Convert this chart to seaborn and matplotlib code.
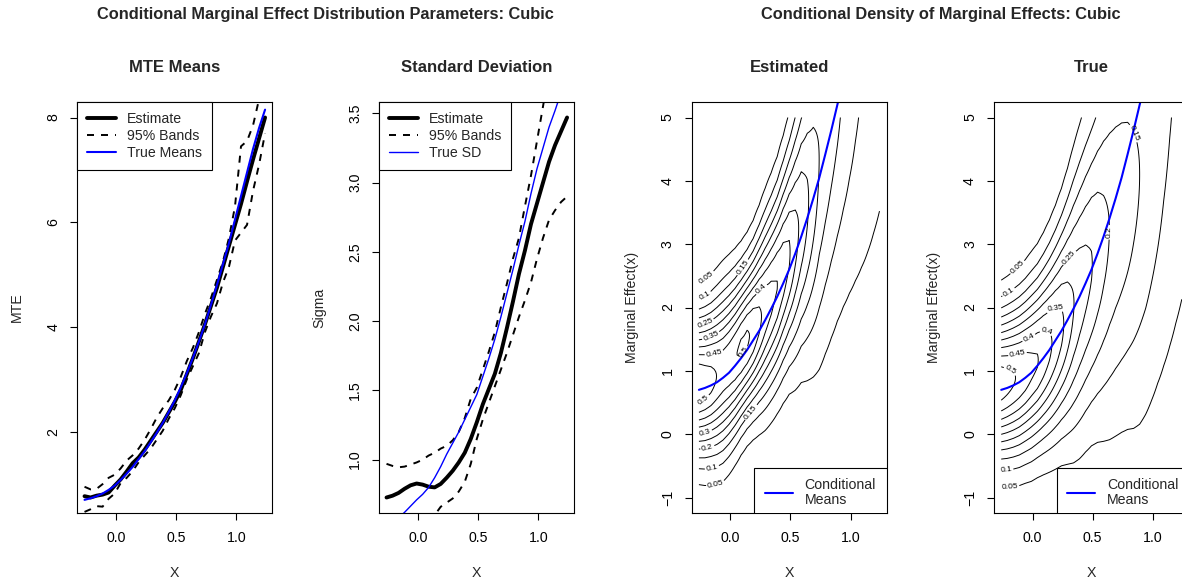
import numpy as np
import pandas as pd
import matplotlib
matplotlib.use("Agg")
import matplotlib.pyplot as plt
import seaborn as sns

# ------------------------------------------------------------------ data
x_grid = [-0.26, -0.21, -0.16, -0.11, -0.06, -0.01, 0.04, 0.09, 0.14, 0.19,
          0.24, 0.29, 0.34, 0.39, 0.44, 0.49, 0.54, 0.59, 0.64, 0.69,
          0.74, 0.79, 0.84, 0.89, 0.94, 0.99, 1.04, 1.09, 1.14, 1.19, 1.24]

# MTE means panel
mte_est = [0.77, 0.745, 0.78, 0.80, 0.84, 0.97, 1.09, 1.24, 1.40, 1.51,
           1.66, 1.83, 2.00, 2.17, 2.37, 2.57, 2.80, 3.10, 3.40, 3.72,
           4.05, 4.40, 4.75, 5.15, 5.55, 5.95, 6.35, 6.78, 7.20, 7.60, 8.00]
mte_upper = [0.95, 0.90, 0.91, 1.00, 1.12, 1.18, 1.30, 1.45, 1.55, 1.68,
             1.85, 2.05, 2.27, 2.45, 2.60, 2.80, 3.05, 3.35, 3.60, 3.90,
             4.25, 4.55, 4.90, 5.25, 5.70, 6.30, 7.45, 7.55, 7.85, 8.35, 8.70]
mte_lower = [0.47, 0.52, 0.58, 0.57, 0.72, 0.82, 1.02, 1.12, 1.25, 1.42,
             1.55, 1.68, 1.85, 2.02, 2.25, 2.45, 2.70, 3.00, 3.25, 3.50,
             3.90, 4.20, 4.45, 4.85, 5.15, 5.65, 5.80, 5.95, 6.60, 7.10, 7.70]
mte_true = [0.70, 0.73, 0.77, 0.82, 0.89, 0.97, 1.08, 1.20, 1.33, 1.48,
            1.63, 1.80, 1.98, 2.17, 2.38, 2.60, 2.85, 3.12, 3.41, 3.72,
            4.05, 4.42, 4.80, 5.20, 5.60, 6.05, 6.50, 6.95, 7.40, 7.80, 8.15]

# Standard deviation panel
sd_est = [0.727, 0.74, 0.76, 0.79, 0.815, 0.828, 0.82, 0.805, 0.80, 0.825,
          0.87, 0.92, 0.98, 1.05, 1.15, 1.27, 1.40, 1.51, 1.62, 1.77,
          1.95, 2.14, 2.34, 2.51, 2.70, 2.85, 3.00, 3.15, 3.27, 3.37, 3.47]
sd_upper = [0.97, 0.955, 0.945, 0.95, 0.965, 0.98, 1.00, 1.03, 1.05, 1.08,
            1.10, 1.14, 1.20, 1.30, 1.44, 1.52, 1.65, 1.78, 1.92, 2.10,
            2.27, 2.45, 2.60, 2.83, 3.05, 3.30, 3.55, 3.80, 4.00, 4.20, 4.40]
sd_lower = [np.nan, np.nan, np.nan, np.nan, np.nan, np.nan, np.nan, 0.55, 0.60, 0.66,
            0.69, 0.72, 0.77, 0.84, 0.97, 1.15, 1.29, 1.41, 1.53, 1.65,
            1.77, 1.90, 2.03, 2.15, 2.28, 2.45, 2.60, 2.73, 2.80, 2.86, 2.90]
sd_true = [np.nan, np.nan, 0.58, 0.62, 0.665, 0.71, 0.75, 0.80, 0.87, 0.95,
           1.04, 1.12, 1.20, 1.29, 1.38, 1.47, 1.60, 1.73, 1.87, 2.03,
           2.20, 2.37, 2.55, 2.72, 2.92, 3.10, 3.25, 3.40, 3.52, 3.65, 3.78]

# conditional density panels: centre and spread of the density at each x
dens_center_est = [0.80, 0.82, 0.86, 0.92, 1.00, 1.10, 1.22, 1.36, 1.50, 1.64,
                   1.80, 1.97, 2.15, 2.35, 2.60, 2.85, 3.10, 3.40, 3.65, 3.95,
                   4.35, 4.75, 5.15, 5.55, 5.95, 6.35, 6.75, 7.15, 7.55, 7.95, 8.35]
dens_scale_est = [0.73, 0.75, 0.77, 0.80, 0.82, 0.815, 0.80, 0.785, 0.785, 0.81,
                  0.86, 0.92, 0.96, 0.995, 1.05, 1.12, 1.25, 1.38, 1.55, 1.75,
                  2.00, 2.15, 2.30, 2.45, 2.65, 2.90, 3.20, 3.55, 3.95, 4.30, 4.60]
dens_center_true = [0.80, 0.83, 0.87, 0.92, 0.99, 1.07, 1.16, 1.27, 1.39, 1.53,
                    1.69, 1.86, 2.05, 2.25, 2.46, 2.66, 2.86, 3.05, 3.24, 3.42,
                    3.58, 3.74, 3.90, 4.10, 4.35, 4.70, 5.10, 5.55, 6.00, 6.45, 6.90]
dens_scale_true = [0.75, 0.77, 0.79, 0.81, 0.83, 0.86, 0.88, 0.92, 0.97, 1.03,
                   1.10, 1.20, 1.32, 1.42, 1.50, 1.58, 1.70, 1.85, 2.00, 2.12,
                   2.22, 2.34, 2.50, 2.66, 2.78, 2.95, 3.15, 3.45, 3.75, 4.00, 4.25]
contour_levels = [0.05, 0.10, 0.15, 0.20, 0.25, 0.30, 0.35, 0.40, 0.45, 0.50]

main_titles = ["Conditional Marginal Effect Distribution Parameters: Cubic",
               "Conditional Density of Marginal Effects: Cubic"]
panel_titles = ["MTE Means", "Standard Deviation", "Estimated", "True"]
y_labels = ["MTE", "Sigma", "Marginal Effect(x)", "Marginal Effect(x)"]

# ------------------------------------------------------------------ style
sns.set_style("ticks")
plt.rcParams["font.family"] = ["Liberation Sans", "DejaVu Sans"]
plt.rcParams["axes.unicode_minus"] = True

W, H = 1182, 585
fig = plt.figure(figsize=(W / 100, H / 100), dpi=100)
fig.patch.set_facecolor("white")

frame_left = [77.3, 379.3, 691.7, 994.0]
frame_w = 195.0
frame_top, frame_bot = 102.3, 512.7
frame_h = frame_bot - frame_top

axes = []
for left in frame_left:
    ax = fig.add_axes([left / W, 1 - frame_bot / H, frame_w / W, frame_h / H])
    ax.set_facecolor("white")
    axes.append(ax)

FS = 10.2


def pad4(lo, hi):
    r = hi - lo
    return lo - 0.04 * r, hi + 0.04 * r


def style_axes(ax, yticks, ylabels, ylabel, title):
    ax.set_xticks([0.0, 0.5, 1.0])
    ax.set_xticklabels(["0.0", "0.5", "1.0"])
    ax.set_yticks(yticks)
    ax.set_yticklabels(ylabels)
    ax.tick_params(axis="both", direction="out", length=5.2, width=0.8,
                   labelsize=FS, color="black", labelcolor="black")
    ax.tick_params(axis="x", pad=8.0)
    ax.tick_params(axis="y", pad=7.0, labelrotation=90)
    for t in ax.get_yticklabels():
        t.set_va("center")
    for s in ax.spines.values():
        s.set_visible(True)
        s.set_color("black")
        s.set_linewidth(0.8)
    ax.set_xlabel("X", fontsize=FS, va="center")
    ax.xaxis.set_label_coords(0.5, -60.5 / frame_h)
    ax.set_ylabel(ylabel, fontsize=FS, va="center")
    ax.yaxis.set_label_coords(-60.0 / frame_w, 0.5)
    ax.set_title(title, fontsize=12, fontweight="bold", y=1 + 34.5 / frame_h,
                 va="center", pad=0)


x_arr = np.array(x_grid)
xlim = pad4(x_arr.min(), x_arr.max())
DASH = (0, (3.6, 3.6))

# ---------------- panel 1: MTE means
ax = axes[0]
sns.lineplot(x=x_grid, y=mte_est, ax=ax, color="black", linewidth=2.8,
             estimator=None, sort=False, label="Estimate")
sns.lineplot(x=x_grid, y=mte_upper, ax=ax, color="black", linewidth=1.4,
             linestyle=DASH, estimator=None, sort=False, label="95% Bands")
sns.lineplot(x=x_grid, y=mte_lower, ax=ax, color="black", linewidth=1.4,
             linestyle=DASH, estimator=None, sort=False)
sns.lineplot(x=x_grid, y=mte_true, ax=ax, color="#0000ff", linewidth=1.5,
             estimator=None, sort=False, label="True Means")
ax.set_xlim(*xlim)
ax.set_ylim(*pad4(min(mte_est), max(mte_est)))
style_axes(ax, [2, 4, 6, 8], ["2", "4", "6", "8"], y_labels[0], panel_titles[0])

# ---------------- panel 2: standard deviation
ax = axes[1]
sns.lineplot(x=x_grid, y=sd_est, ax=ax, color="black", linewidth=2.8,
             estimator=None, sort=False, label="Estimate")
sns.lineplot(x=x_grid, y=sd_upper, ax=ax, color="black", linewidth=1.4,
             linestyle=DASH, estimator=None, sort=False, label="95% Bands")
sns.lineplot(x=x_grid, y=sd_lower, ax=ax, color="black", linewidth=1.4,
             linestyle=DASH, estimator=None, sort=False)
sns.lineplot(x=x_grid, y=sd_true, ax=ax, color="#0000ff", linewidth=1.0,
             estimator=None, sort=False, label="True SD")
ax.set_xlim(*xlim)
ax.set_ylim(*pad4(min(sd_est), max(sd_est)))
style_axes(ax, [1.0, 1.5, 2.0, 2.5, 3.0, 3.5],
           ["1.0", "1.5", "2.0", "2.5", "3.0", "3.5"], y_labels[1], panel_titles[1])

for ax in axes[:2]:
    h, l = ax.get_legend_handles_labels()
    leg = ax.legend(h, l, loc="upper left", bbox_to_anchor=(0, 1),
                    borderaxespad=0, frameon=True, fancybox=False,
                    edgecolor="black", framealpha=1, fontsize=FS,
                    handlelength=2.0, handletextpad=0.8, borderpad=0.7,
                    labelspacing=0.2)
    leg.get_frame().set_linewidth(0.8)

# ---------------- panels 3, 4: conditional densities
y_dens = np.linspace(-1.0, 5.0, 161)


def cond_density(center, scale):
    c = np.asarray(center)[None, :]
    s = np.asarray(scale)[None, :]
    z = (y_dens[:, None] - c) / s
    return np.exp(-0.5 * z ** 2) / (s * np.sqrt(2 * np.pi))


label_pos = [
    [(-0.19, 2.46), (0.10, 2.64), (-0.20, 2.14), (0.27, 2.25), (-0.20, 1.72),
     (-0.15, 1.51), (-0.13, 1.22), (0.09, 1.32), (-0.21, 0.51), (0.17, 0.35),
     (-0.20, -0.02), (-0.18, -0.28), (-0.15, -0.54), (-0.12, -0.82)],
    [(-0.15, 2.69), (-0.22, 2.30), (0.80, 4.72), (0.535, 3.19), (0.38, 2.64),
     (0.176, 2.03), (0.13, 1.75), (-0.017, 1.47), (-0.12, 1.21), (-0.22, 0.89),
     (-0.22, -0.55), (-0.19, -0.78)],
]

for k, (ax, cen, sc) in enumerate(zip(axes[2:],
                                      [dens_center_est, dens_center_true],
                                      [dens_scale_est, dens_scale_true])):
    Z = cond_density(cen, sc)
    cs = ax.contour(x_grid, y_dens, Z, levels=contour_levels, colors="black",
                    linewidths=0.7)
    ax.clabel(cs, manual=label_pos[k], inline=True, inline_spacing=2,
              fontsize=6, fmt=lambda v: f"{v:g}")
    sns.lineplot(x=x_grid, y=mte_true, ax=ax, color="#0000ff", linewidth=1.5,
                 estimator=None, sort=False, label="Conditional\nMeans")
    ax.set_xlim(*xlim)
    ax.set_ylim(*pad4(-1.0, 5.0))
    style_axes(ax, [-1, 0, 1, 2, 3, 4, 5],
               ["\u22121", "0", "1", "2", "3", "4", "5"], y_labels[2 + k],
               panel_titles[2 + k])
    h, l = ax.get_legend_handles_labels()
    leg = ax.legend(h, l, loc="upper right",
                    bbox_to_anchor=(1.0, (frame_bot - 467.7) / frame_h),
                    borderaxespad=0, frameon=True, fancybox=False,
                    edgecolor="black", framealpha=1, fontsize=FS,
                    handlelength=1.95, handletextpad=0.85, borderpad=0.75)
    leg.get_frame().set_linewidth(0.8)
    for t in leg.get_texts():
        t.set_linespacing(1.1)
    for art in [leg.legendPatch] + leg.get_texts() + leg.get_lines():
        art.set_clip_box(ax.bbox)
        art.set_clip_on(True)

# ---------------- main titles
fig.text((frame_left[0] + frame_left[1] + frame_w) / 2 / W, 1 - 15 / H,
         main_titles[0], ha="center", va="center", fontsize=11.8,
         fontweight="bold")
fig.text((frame_left[2] + frame_left[3] + frame_w) / 2 / W, 1 - 15 / H,
         main_titles[1], ha="center", va="center", fontsize=11.8,
         fontweight="bold")

fig.savefig("out.png", dpi=100, facecolor="white")
